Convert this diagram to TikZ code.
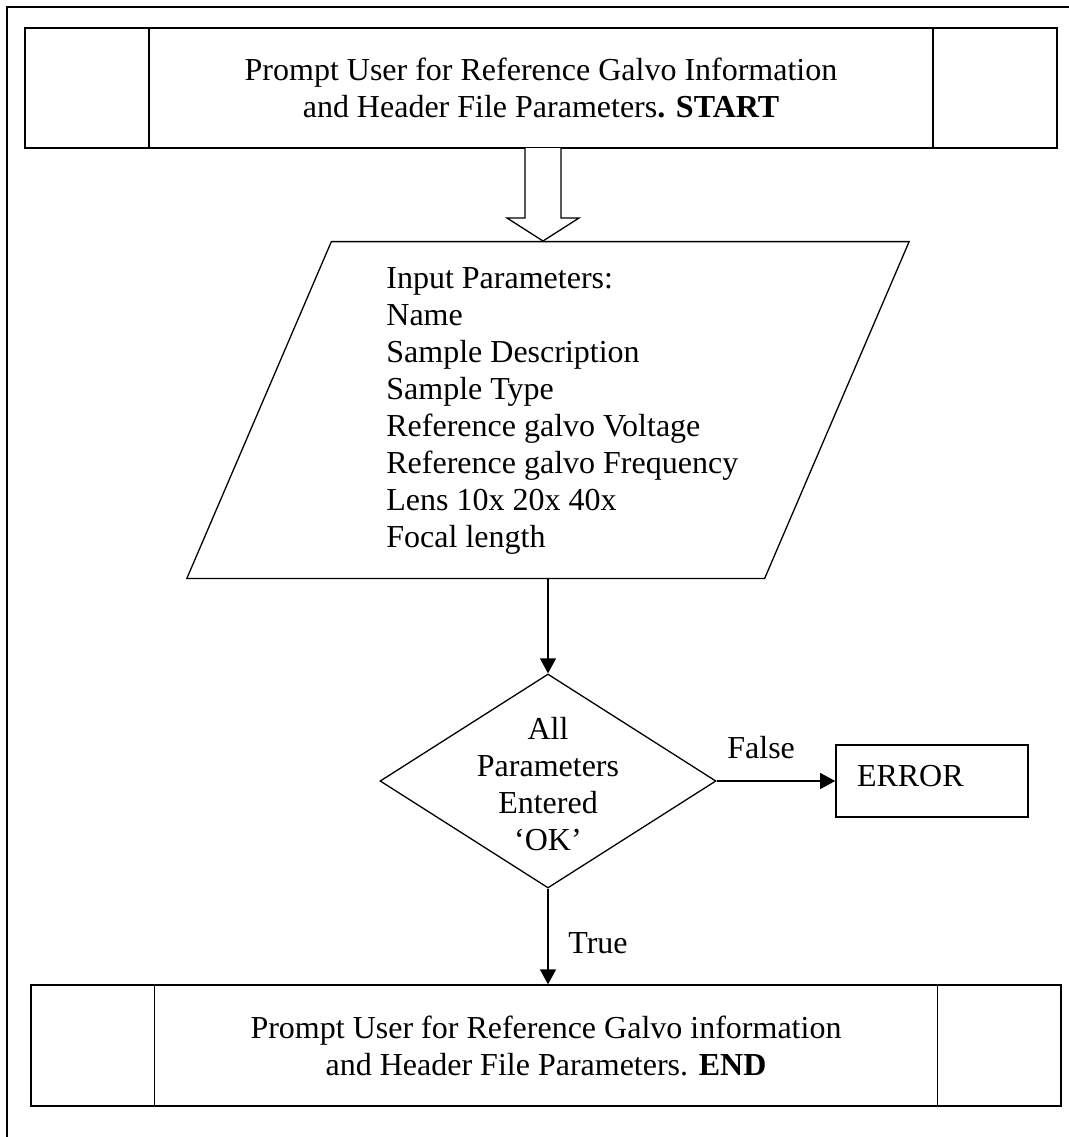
\documentclass[tikz,border=0pt]{standalone}
\usepackage{fontspec}
\setmainfont{Liberation Serif}
\usetikzlibrary{calc}
\usetikzlibrary{arrows.meta, shapes.geometric}
\usetikzlibrary{positioning}

\begin{document}
\begin{tikzpicture}[x=0.5pt, y=-0.5pt, line join=miter,
    font=\fontsize{16pt}{18.5pt}\selectfont,
    procbox/.style={draw, line width=1pt, minimum width=516pt, minimum height=60pt, inner sep=0pt, align=center},
    iobox/.style={minimum width=360.75pt, minimum height=168pt, inner sep=0pt},
    decision/.style={draw, line width=0.65pt, diamond, minimum width=168pt, minimum height=107pt, inner sep=0pt},
    errbox/.style={draw, line width=0.8pt, minimum width=96pt, minimum height=36pt, inner xsep=10.5pt, text width=75pt, align=left},
    flow/.style={-{Triangle[length=7.5pt, width=8pt]}, line width=0.65pt},
    lbl/.style={inner sep=0pt}]

  \useasboundingbox (0,0) rectangle (1069,1137);

  % Page frame
  \draw[line width=1pt] (7,1137) -- (7,7) -- (1069,7);

  %--------------------------
  % Start box
  %--------------------------
  \node[procbox] (start) at (541,88) {Prompt User for Reference Galvo Information\\and Header File Parameters\textbf{. START}};
  \draw[line width=1pt] ($(start.north west)+(125,0)$) -- ($(start.south west)+(125,0)$);
  \draw[line width=1pt] ($(start.north east)+(-125,0)$) -- ($(start.south east)+(-125,0)$);

  %--------------------------
  % Input parameters
  %--------------------------
  \node[iobox] (params) at (548,410) {};
  \draw[line width=0.65pt] (params.south west) -- ($(params.north west)+(144.5,0)$) -- (params.north east)
    -- ($(params.south east)+(-144.5,0)$) -- cycle;
  \node[lbl, anchor=west, align=left] (paramtxt) at (386,411) {Input Parameters:\\Name\\Sample Description\\Sample Type\\Reference galvo Voltage\\Reference galvo Frequency\\Lens 10x 20x 40x\\Focal length};

  % Block arrow
  \coordinate (tip) at (543,241);
  \draw[line width=0.65pt, fill=white] ($(tip)+(-18,-93)$) -- ($(tip)+(-18,-23)$) -- ($(tip)+(-36,-23)$) -- (tip)
    -- ($(tip)+(36,-23)$) -- ($(tip)+(18,-23)$) -- ($(tip)+(18,-93)$);

  %--------------------------
  % Check
  %--------------------------
  \node[decision] (check) at (548,781) {};
  \node[lbl, align=center] (checktxt) at (548,784) {All\\Parameters\\Entered\\`OK'};
  \draw[flow] (params.south) -- (check.north);

  \node[errbox] (err) at (932,781) {\raisebox{5pt}{ERROR}};
  \draw[flow] (check.east) -- (err.west);
  \node[lbl, anchor=base west] (falselbl) at (727,758) {False};

  %--------------------------
  % End box
  %--------------------------
  \node[procbox, line width=0.65pt, minimum width=515pt, minimum height=60.5pt] (finish) at (546,1045.5) {Prompt User for Reference Galvo information\\and Header File Parameters. \textbf{END}};
  \draw[line width=0.65pt] ($(finish.north west)+(124,0)$) -- ($(finish.south west)+(124,0)$);
  \draw[line width=0.65pt] ($(finish.north east)+(-124,0)$) -- ($(finish.south east)+(-124,0)$);

  \draw[flow] (check.south) -- (check.south |- finish.north);
  \node[lbl, anchor=base west] (truelbl) at (568,953) {True};

\end{tikzpicture}
\end{document}
